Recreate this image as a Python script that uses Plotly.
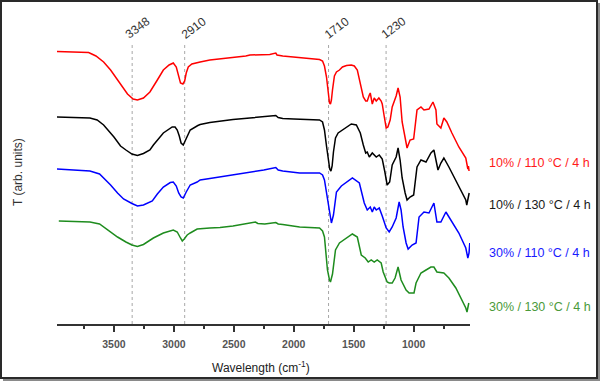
import plotly.graph_objects as go

# ---------------- data ----------------
wn_red = [3985, 3900, 3800, 3711, 3650, 3586, 3528, 3470, 3420, 3387, 3340, 3304, 3254, 3200, 3138, 3088,
          3040, 3005, 2980, 2960, 2945, 2925, 2910, 2897, 2880, 2850, 2806, 2781, 2700, 2615, 2507, 2400,
          2366, 2300, 2242, 2200, 2150, 2140, 2092, 2000, 1951, 1868, 1785, 1760, 1744, 1727, 1711, 1702,
          1694, 1686, 1677, 1661, 1644, 1619, 1594, 1560, 1520, 1495, 1470, 1445, 1420, 1400, 1387, 1370,
          1362, 1345, 1329, 1312, 1290, 1271, 1262, 1246, 1229, 1215, 1196, 1179, 1146, 1130, 1113, 1096,
          1071, 1055, 1030, 1000, 972, 939, 914, 872, 839, 814, 806, 773, 748, 723, 681, 623,
          565, 555, 548, 543, 538]
t_red = [272.5, 272, 272, 271.5, 268, 262, 254, 244, 236, 230, 225, 224, 226, 232, 244, 254,
         259, 261, 257, 246, 241, 240, 243, 251, 257, 260, 261.5, 262, 264, 265, 266.5, 268,
         269, 269, 269.5, 269.5, 271, 269, 268, 267, 266.5, 265, 264.5, 263, 258, 247, 229, 221,
         220, 224, 234, 248, 252, 254, 257, 258.5, 259, 258, 254, 242, 227, 223, 223, 229,
         231, 220, 226, 223, 226, 223, 220, 208, 196, 197, 204, 217, 228, 236, 227, 202,
         184, 176, 184, 185, 214, 217, 214, 215, 222, 214, 200, 196, 206, 202, 191, 177,
         166, 159, 155, 158, 153]

wn_black = [3990, 3850, 3700, 3640, 3586, 3500, 3445, 3400, 3350, 3304, 3254, 3200, 3171, 3088, 3014, 2990,
            2972, 2955, 2940, 2922, 2905, 2880, 2864, 2800, 2781, 2700, 2615, 2507, 2366, 2250, 2150, 2130,
            2092, 2000, 1900, 1785, 1760, 1744, 1727, 1711, 1700, 1690, 1680, 1669, 1652, 1630, 1594, 1560,
            1520, 1478, 1445, 1420, 1400, 1387, 1370, 1345, 1329, 1312, 1287, 1262, 1240, 1221, 1200, 1179,
            1146, 1130, 1113, 1096, 1071, 1055, 1030, 1000, 972, 939, 897, 856, 831, 814, 797, 773,
            748, 706, 648, 598, 565, 557, 545, 537]
t_black = [207, 206.5, 206, 204, 199, 187, 178, 174, 170, 168.5, 170.5, 174, 179, 191, 197, 197,
           194, 188, 181, 179, 183, 190, 194, 198.5, 199.5, 201.5, 203, 204.5, 206, 207, 208.5, 206.5,
           205.5, 205, 204.5, 204, 202, 194, 178, 161, 155, 153, 158, 172, 186, 191, 194, 197,
           200, 199, 191, 179, 171, 172, 167, 171, 169, 167, 169, 165, 152, 139, 142, 159,
           167, 176, 164, 146, 131, 124, 127, 129, 157, 164, 162, 171, 174, 164, 154, 161,
           166, 157, 144, 132, 124, 119, 126, 131]

wn_blue = [3985, 3850, 3700, 3620, 3586, 3528, 3470, 3420, 3350, 3304, 3254, 3180, 3138, 3088, 3030, 3005,
           2980, 2960, 2940, 2922, 2897, 2864, 2806, 2781, 2700, 2615, 2507, 2400, 2330, 2250, 2150, 2130,
           2092, 2000, 1951, 1785, 1760, 1744, 1719, 1702, 1686, 1669, 1644, 1603, 1560, 1511, 1453, 1412,
           1387, 1362, 1345, 1329, 1312, 1287, 1262, 1229, 1204, 1179, 1146, 1121, 1105, 1088, 1063, 1046,
           1013, 980, 955, 914, 872, 831, 806, 773, 731, 681, 623, 565, 548, 538, 532]
t_blue = [155, 154, 153, 150, 146, 139, 131, 125, 120.5, 118, 119, 123, 130, 137, 141.5, 142,
          138, 131, 127, 126, 132, 139, 142, 144, 145.5, 147, 149, 151.5, 152, 154, 156.5, 154,
          153, 151.5, 151, 151, 149, 144, 124, 109, 101, 109, 132, 138, 142, 146, 141, 121,
          114, 117, 112, 117, 114, 116, 108, 96, 92, 97, 106, 122, 114, 97, 81, 75,
          79, 81, 107, 112, 111, 121, 102, 102, 112, 102, 91, 76, 66, 71, 81]

wn_green = [3960, 3850, 3700, 3620, 3586, 3528, 3470, 3400, 3350, 3304, 3254, 3171, 3088, 3005, 2972, 2945,
            2930, 2914, 2889, 2864, 2806, 2700, 2615, 2507, 2400, 2366, 2320, 2300, 2242, 2150, 2130, 2092,
            1951, 1785, 1760, 1744, 1727, 1719, 1702, 1694, 1677, 1652, 1619, 1561, 1511, 1470, 1437, 1404,
            1379, 1354, 1329, 1304, 1271, 1254, 1221, 1204, 1179, 1155, 1130, 1105, 1063, 1038, 997, 980,
            939, 897, 856, 831, 806, 748, 706, 648, 598, 565, 555, 540]
t_green = [103, 102.5, 102, 100, 97, 92, 87, 82, 79, 77.5, 79.5, 86, 91, 94, 92, 86,
           83, 85, 89, 91, 95, 96, 96.5, 98, 100, 101, 102, 100.5, 100, 101.5, 100, 99.5,
           97, 96, 93, 87, 66, 54, 44, 42, 50, 74, 81, 86, 90, 87, 69, 66,
           62, 64, 62, 64, 61, 52, 42, 41, 41, 46, 57, 44, 34, 31, 31, 41,
           51, 54, 57, 57, 52, 51, 46, 36, 24, 16, 12, 21]

series_names = ["10% / 110 °C / 4 h", "10% / 130 °C / 4 h", "30% / 110 °C / 4 h", "30% / 130 °C / 4 h"]
line_colors = ["#ff0000", "#000000", "#0000ff", "#1e8c1e"]
label_colors = ["#ff1a1a", "#1a1a1a", "#1a1aff", "#4a9a3a"]
label_t = [161, 119, 71, 17]

peak_positions = [3348, 2910, 1710, 1230]
peak_labels = ["3348", "2910", "1710", "1230"]
peak_label_shift = [5, 9, 8, 7]

x_tick_vals = [3500, 3000, 2500, 2000, 1500, 1000]
x_minor_vals = [3750, 3250, 2750, 2250, 1750, 1250, 750]

# ---------------- figure ----------------
W, H = 601, 381
L, R, T, B = 57, 131, 20, 57
PW, PH = W - L - R, H - T - B

def px_x(p):
    return (p - L) / PW

def px_y(p):
    return (H - B - p) / PH

fig = go.Figure()
for wn, tv, name, col in zip([wn_red, wn_black, wn_blue, wn_green],
                             [t_red, t_black, t_blue, t_green], series_names, line_colors):
    fig.add_trace(go.Scatter(x=wn, y=tv, mode="lines", name=name,
                             line=dict(color=col, width=1.5), showlegend=False,
                             hoverinfo="skip"))

shapes = []
for p in peak_positions:
    shapes.append(dict(type="line", xref="x", yref="y", x0=p, x1=p, y0=0, y1=282,
                       line=dict(color="#a8a8a8", width=1, dash="dot"), layer="below"))
# frame around the whole picture
shapes.append(dict(type="rect", xref="paper", yref="paper",
                   x0=px_x(1), x1=px_x(597), y0=px_y(378), y1=px_y(1),
                   line=dict(color="#2a2a2a", width=2)))
shapes.append(dict(type="line", xref="paper", yref="paper",
                   x0=px_x(599), x1=px_x(599), y0=px_y(380), y1=px_y(3),
                   line=dict(color="#8a8a8a", width=2)))
shapes.append(dict(type="line", xref="paper", yref="paper",
                   x0=px_x(3), x1=px_x(600), y0=px_y(380), y1=px_y(380),
                   line=dict(color="#8a8a8a", width=2)))

annotations = []
for p, lab, sh in zip(peak_positions, peak_labels, peak_label_shift):
    annotations.append(dict(x=p, y=296.5, xref="x", yref="y", text=lab, showarrow=False,
                            textangle=-37, xshift=sh, xanchor="center", yanchor="middle",
                            font=dict(family="Liberation Sans, Arial", size=12, color="#333333")))
for name, col, ty in zip(series_names, label_colors, label_t):
    annotations.append(dict(x=px_x(487), y=ty, xref="paper", yref="y", text=name, showarrow=False,
                            xanchor="left", yanchor="middle",
                            font=dict(family="Liberation Sans, Arial", size=12.5, color=col)))
annotations.append(dict(x=px_x(18), y=0.5, xref="paper", yref="paper", text="T (arb. units)",
                        showarrow=False, textangle=-90, xanchor="center", yanchor="middle",
                        font=dict(family="Liberation Sans, Arial", size=12, color="#333333")))
annotations.append(dict(x=px_x(261), y=px_y(367), xref="paper", yref="paper",
                        text="Wavelength (cm<sup>-1</sup>)", showarrow=False,
                        xanchor="center", yanchor="middle",
                        font=dict(family="Liberation Sans, Arial", size=12, color="#222222")))

fig.update_layout(
    width=W, height=H,
    margin=dict(l=L, r=R, t=T, b=B, autoexpand=False),
    paper_bgcolor="white", plot_bgcolor="white",
    shapes=shapes, annotations=annotations,
    xaxis=dict(range=[3975, 530], tickvals=x_tick_vals, ticktext=[str(v) for v in x_tick_vals],
               ticks="outside", ticklen=6, tickwidth=1.5, tickcolor="#333333",
               showline=True, linecolor="#333333", linewidth=1.5, showgrid=False, zeroline=False,
               ticklabelstandoff=4,
               tickfont=dict(family="Liberation Sans, Arial", size=10.5, color="#555555", weight="bold"),
               minor=dict(tickvals=x_minor_vals, ticks="outside", ticklen=3.5, tickwidth=1.5,
                          tickcolor="#333333", showgrid=False)),
    yaxis=dict(range=[0, 304], showticklabels=False, ticks="", showline=False, showgrid=False,
               zeroline=False),
)

fig.write_html("out.html", config={"displayModeBar": False},
               post_script="document.body.style.margin='0';document.body.style.padding='0';")
